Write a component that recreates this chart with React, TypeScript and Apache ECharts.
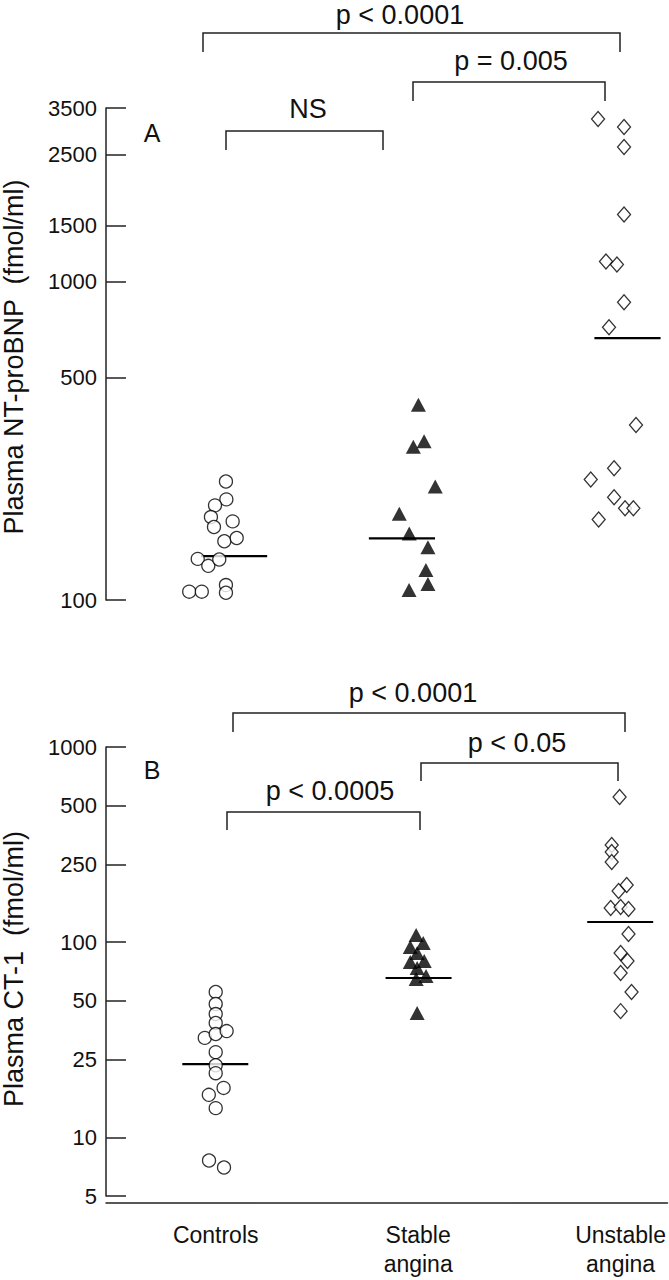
import React, { useEffect, useRef } from "react";
import * as echarts from "echarts";

const FONT = '"Liberation Sans", Arial, Helvetica, sans-serif';

// ---------- categories & ticks ----------
const categories = ["Controls", "Stable\nangina", "Unstable\nangina"];
const tickValuesA = [100, 500, 1000, 1500, 2500, 3500];
const tickValuesB = [5, 10, 25, 50, 100, 250, 500, 1000];
const nameA = "Plasma NT-proBNP  (fmol/ml)";
const nameB = "Plasma CT-1  (fmol/ml)";

// ---------- Panel A: NT-proBNP (fmol/ml) ----------
const controlsA = [235.5, 206.9, 198.1, 182.1, 169.5, 176.5, 152.9, 156.5, 134.6, 128.0, 134.0, 106.2, 106.2, 111.4, 105.4];
const controlsAJitter = [0.049, 0.051, -0.005, -0.025, -0.01, 0.082, 0.041, 0.102, -0.09, -0.038, 0.016, -0.132, -0.07, 0.049, 0.049];
const stableA = [409.8, 314.7, 302.9, 227.1, 186.6, 161.6, 146.4, 124.1, 112.2, 107.5];
const stableAJitter = [-0.003, 0.025, -0.028, 0.08, -0.097, -0.048, 0.044, 0.034, 0.044, -0.049];
const unstableA = [3231, 3051, 2642, 1620, 1155, 1130, 860, 718, 354, 259, 239, 210, 194, 194, 179];
const unstableAJitter = [-0.118, 0.01, 0.01, 0.01, -0.079, -0.025, 0.01, -0.064, 0.069, -0.039, -0.154, -0.039, 0.015, 0.056, -0.115];
const mediansA = [137.3, 156.2, 664];
const medianACenter = [0.089, 0.916, 2.027];

// ---------- Panel B: CT-1 (fmol/ml) ----------
const controlsB = [55.5, 48.2, 42.8, 38.5, 32.3, 33.8, 35.0, 27.3, 23.4, 21.3, 17.9, 16.5, 14.1, 7.6, 7.0];
const controlsBJitter = [0, 0, 0, 0, -0.054, 0, 0.054, 0, 0, 0, 0.039, -0.034, 0, -0.033, 0.041];
const stableB = [108.7, 98.9, 94.4, 87.9, 80, 79.1, 73.7, 67.0, 64.7, 43.3];
const stableBJitter = [-0.01, 0.025, -0.039, -0.005, 0.03, -0.039, -0.005, 0.039, -0.01, -0.005];
const unstableB = [554, 314.5, 289.6, 257.4, 196.2, 182.7, 149.6, 151.3, 147.8, 110, 87.9, 80, 69.4, 55.5, 44.3];
const unstableBJitter = [-0.005, -0.044, -0.044, -0.044, 0.03, -0.01, -0.049, 0, 0.039, 0.039, 0, 0.034, 0, 0.054, 0];
const mediansB = [23.7, 65.5, 126.8];
const medianBCenter = [-0.002, 1.002, 1.998];
const MEDIAN_HALF = 0.163;

// ---------- significance annotations ----------
const pLabelsA = ["p < 0.0001", "p = 0.005", "NS"];
const pLabelsB = ["p < 0.0001", "p < 0.05", "p < 0.0005"];

const X_MIN = -0.5419;
const X_MAX = 2.2315;

const INK = "#111";
const LINE = "#222";

function points(values: number[], jitter: number[], group: number) {
  return values.map((v, i) => [group + jitter[i], v]);
}

function bracket(x0: number, x1: number, yTop: number, yLeg: number) {
  return {
    type: "polyline",
    shape: { points: [[x0, yLeg], [x0, yTop], [x1, yTop], [x1, yLeg]] },
    style: { stroke: LINE, lineWidth: 1.5, fill: "none" },
    silent: true,
  };
}

function label(text: string, x: number, y: number, size: number, rotation = 0) {
  return {
    type: "text",
    x,
    y,
    rotation,
    silent: true,
    style: {
      text,
      fill: INK,
      font: `${size}px ${FONT}`,
      fontSize: size,
      fontFamily: FONT,
      align: "center",
      verticalAlign: "middle",
      textAlign: "center",
      textVerticalAlign: "middle",
    },
  };
}

function yAxis(gridIndex: number, min: number, max: number, ticks: number[]) {
  return {
    type: "log",
    logBase: 10,
    gridIndex,
    min,
    max,
    axisLine: { show: true, onZero: false, lineStyle: { color: LINE, width: 1.5 } },
    axisTick: { show: true, inside: true, length: 20, customValues: ticks, lineStyle: { color: LINE, width: 1.5 } },
    axisLabel: {
      customValues: ticks,
      fontSize: 22,
      color: INK,
      margin: 9,
      fontFamily: FONT,
      formatter: (v: number) => String(Math.round(v)),
    },
    splitLine: { show: false },
  };
}

function scatter(data: number[][], kind: "circle" | "triangle" | "diamond", axisIndex: number) {
  const base: any = {
    type: "scatter",
    xAxisIndex: axisIndex,
    yAxisIndex: axisIndex,
    data,
    z: 3,
    symbol: kind,
  };
  if (kind === "circle") {
    base.symbolSize = 13;
    base.itemStyle = { color: "#fff", borderColor: "#000", borderWidth: 1.3 };
  } else if (kind === "triangle") {
    base.symbolSize = [15, 14];
    base.itemStyle = { color: "#000" };
  } else {
    base.symbolSize = [13, 15];
    base.itemStyle = { color: "#fff", borderColor: "#000", borderWidth: 1.3 };
  }
  return base;
}

function medianLines(medians: number[], centers: number[], axisIndex: number) {
  return medians.map((m, i) => ({
    type: "line",
    xAxisIndex: axisIndex,
    yAxisIndex: axisIndex,
    data: [
      [centers[i] - MEDIAN_HALF, m],
      [centers[i] + MEDIAN_HALF, m],
    ],
    symbol: "none",
    z: 2,
    lineStyle: { color: "#000", width: 2.2 },
  }));
}

const option: any = {
  animation: false,
  backgroundColor: "#fff",
  textStyle: { fontFamily: FONT },
  grid: [
    { left: 106, top: 108, width: 563, height: 492 },
    { left: 106, top: 747, width: 563, height: 449 },
  ],
  xAxis: [
    { gridIndex: 0, type: "value", min: X_MIN, max: X_MAX, show: false },
    {
      gridIndex: 1,
      type: "value",
      min: X_MIN,
      max: X_MAX,
      offset: 7,
      axisLine: { show: true, onZero: false, lineStyle: { color: LINE, width: 1.5 } },
      axisTick: { show: false },
      splitLine: { show: false },
      axisLabel: {
        customValues: [0, 1, 2],
        formatter: (v: number) => categories[Math.round(v)],
        fontSize: 23,
        lineHeight: 29,
        margin: 17,
        color: INK,
        fontFamily: FONT,
        verticalAlign: "top",
      },
    },
  ],
  yAxis: [yAxis(0, 100, 3500, tickValuesA), yAxis(1, 5, 1000, tickValuesB)],
  series: [
    ...medianLines(mediansA, medianACenter, 0),
    ...medianLines(mediansB, medianBCenter, 1),
    scatter(points(controlsA, controlsAJitter, 0), "circle", 0),
    scatter(points(stableA, stableAJitter, 1), "triangle", 0),
    scatter(points(unstableA, unstableAJitter, 2), "diamond", 0),
    scatter(points(controlsB, controlsBJitter, 0), "circle", 1),
    scatter(points(stableB, stableBJitter, 1), "triangle", 1),
    scatter(points(unstableB, unstableBJitter, 2), "diamond", 1),
  ],
  graphic: [
    // axis titles
    label(nameA, 14, 357, 27, Math.PI / 2),
    label(nameB, 14, 969, 27, Math.PI / 2),
    // Panel A
    label(pLabelsA[0], 400, 15, 27),
    bracket(203, 620, 33, 52),
    label(pLabelsA[1], 511, 61, 27),
    bracket(413, 605, 82, 101),
    label(pLabelsA[2], 308, 109, 27),
    bracket(226, 383, 131, 150),
    label("A", 152, 133, 25),
    // Panel B
    label(pLabelsB[0], 413, 693, 27),
    bracket(233, 625, 713, 732),
    label(pLabelsB[1], 517, 743, 27),
    bracket(421, 618, 763, 781),
    label(pLabelsB[2], 330, 791, 27),
    bracket(227, 420, 812, 830),
    label("B", 152, 770, 25),
  ],
};

export default function App() {
  const ref = useRef<HTMLDivElement>(null);
  useEffect(() => {
    document.body.style.margin = "0";
    const chart = echarts.init(ref.current as HTMLDivElement, null, { renderer: "svg" });
    chart.setOption(option);
    return () => chart.dispose();
  }, []);
  return <div ref={ref} style={{ width: 669, height: 1280, background: "#fff" }} />;
}
